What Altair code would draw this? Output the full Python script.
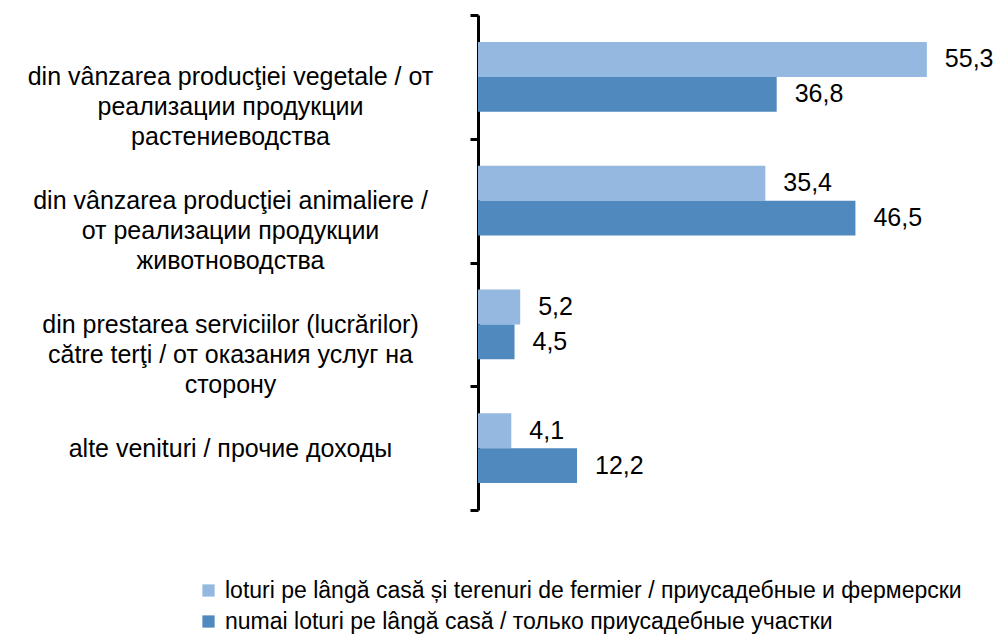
import altair as alt
import pandas as pd

categories = [
    "din vânzarea producţiei  vegetale / от|реализации продукции|растениеводства",
    "din vânzarea producţiei  animaliere /|от реализации продукции|животноводства",
    "din prestarea serviciilor (lucrărilor)|către terţi / от оказания услуг на|сторону",
    "alte venituri / прочие доходы",
]
series = [
    "loturi pe lângă casă și terenuri de fermier / приусадебные и фермерски",
    "numai loturi pe lângă casă / только  приусадебные участки",
]
values_light = [55.3, 35.4, 5.2, 4.1]
values_dark = [36.8, 46.5, 4.5, 12.2]
colors = ["#95B8E0", "#4F89BD"]

rows = []
for c, a, b in zip(categories, values_light, values_dark):
    rows.append({"category": c, "series": series[0], "value": a})
    rows.append({"category": c, "series": series[1], "value": b})
df = pd.DataFrame(rows)

FONT = "Liberation Sans"

y = alt.Y(
    "category:N",
    sort=categories,
    scale=alt.Scale(paddingInner=0, paddingOuter=0),
    axis=alt.Axis(
        title=None,
        tickBand="extent",
        labelExpr="split(datum.label, '|')",
        labelAlign="center",
        labelBaseline="middle",
        labelPadding=240,
        labelLimit=600,
        labelFontSize=25,
        labelLineHeight=30,
        labelFont=FONT,
        labelColor="black",
        domainColor="black",
        domainWidth=3,
        tickColor="black",
        tickWidth=3,
        tickSize=8,
    ),
)
yoff = alt.YOffset("series:N", sort=series, scale=alt.Scale(paddingOuter=0.77, paddingInner=0))
x = alt.X("value:Q", scale=alt.Scale(domain=[0, 60]), axis=None)

base = alt.Chart(df).encode(y=y, yOffset=yoff, x=x)

bars = base.mark_bar().encode(
    color=alt.Color(
        "series:N",
        sort=series,
        scale=alt.Scale(domain=series, range=colors),
        legend=alt.Legend(
            title=None,
            orient="none",
            legendX=-281,
            legendY=564,
            direction="vertical",
            symbolType="square",
            symbolSize=150,
            symbolStrokeWidth=0,
            symbolOpacity=1,
            labelFontSize=23,
            labelFont=FONT,
            labelColor="black",
            labelLimit=1200,
            rowPadding=7,
            padding=0,
            labelOffset=5,
        ),
    )
)

labels = base.transform_calculate(
    lbl="replace(format(datum.value, '.1f'), '.', ',')"
).mark_text(
    align="left", baseline="middle", dx=18, fontSize=25, font=FONT, color="black"
).encode(text="lbl:N")

chart = (
    alt.layer(bars, labels)
    .properties(
        width=487,
        height=495,
        autosize=alt.AutoSizeParams(type="none"),
        padding={"left": 470, "top": 7, "right": 32, "bottom": 126},
    )
    .configure_view(stroke=None)
)

chart.save("out.html", embed_options={"renderer": "svg", "actions": False})
